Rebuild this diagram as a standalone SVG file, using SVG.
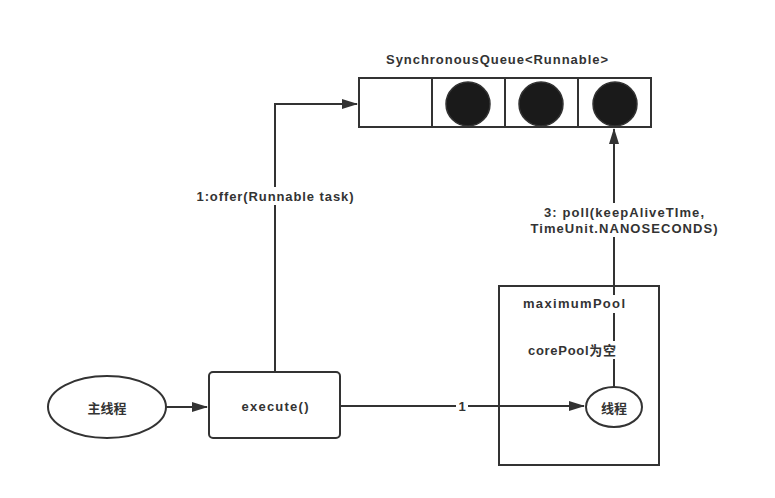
<svg xmlns="http://www.w3.org/2000/svg" width="775" height="498" viewBox="0 0 775 498">
<defs>
<marker id="arr" markerWidth="16" markerHeight="12" refX="15" refY="6" orient="auto" markerUnits="userSpaceOnUse" viewBox="0 0 16 12">
<path d="M0,1 L16,6 L0,11 Z" fill="#333"/>
</marker>
</defs>
<style>
text{font-family:"Liberation Sans","Noto Sans CJK SC",sans-serif;font-weight:bold;font-size:13px;fill:#333;}
.c{text-anchor:middle;dominant-baseline:central;}
.shape{fill:#fff;stroke:#333;stroke-width:2;}
.line{fill:none;stroke:#333;stroke-width:2;}
.lbl{fill:#fff;stroke:none;}
</style>
<rect width="775" height="498" fill="#fff"/>
<g id="maximumPool">
<rect class="shape" x="499" y="286" width="160" height="179"/>
</g>
<g id="connectors">
<path class="line" d="M166,407 L207,407" marker-end="url(#arr)"/>
<path class="line" d="M275,372 L275,104 L357,104" marker-end="url(#arr)"/>
<path class="line" d="M340,406 L584,406" marker-end="url(#arr)"/>
<path class="line" d="M614,387 L614,129" marker-end="url(#arr)"/>
<rect class="lbl" x="195" y="187" width="161" height="18"/>
<text class="c" x="275" y="196" textLength="157" lengthAdjust="spacing">1:offer(Runnable task)</text>
<rect class="lbl" x="456" y="398" width="12" height="16"/>
<text class="c" x="462" y="406">1</text>
<rect class="lbl" x="528" y="203" width="193" height="34"/>
<text class="c" x="624" y="212" textLength="160" lengthAdjust="spacing">3: poll(keepAliveTIme,</text>
<text class="c" x="624" y="228" textLength="187" lengthAdjust="spacing">TimeUnit.NANOSECONDS)</text>
</g>
<g id="pool-labels">
<rect class="lbl" x="520" y="295" width="108" height="18"/>
<text class="c" x="574" y="303" textLength="102" lengthAdjust="spacing">maximumPool</text>
<rect class="lbl" x="526" y="341" width="92" height="18"/>
<text class="c" x="572" y="350" textLength="88" lengthAdjust="spacing">corePool为空</text>
</g>
<g id="queue">
<text class="c" x="497" y="59" textLength="222" lengthAdjust="spacing">SynchronousQueue&lt;Runnable&gt;</text>
<rect class="shape" x="359" y="78" width="292" height="49"/>
<line class="line" x1="432" y1="78" x2="432" y2="127"/>
<line class="line" x1="505" y1="78" x2="505" y2="127"/>
<line class="line" x1="578" y1="78" x2="578" y2="127"/>
<circle cx="468" cy="104" r="22" fill="#1a1a1a" stroke="#333" stroke-width="1.5"/>
<circle cx="541" cy="104" r="22" fill="#1a1a1a" stroke="#333" stroke-width="1.5"/>
<circle cx="615" cy="104" r="22" fill="#1a1a1a" stroke="#333" stroke-width="1.5"/>
</g>
<g id="main-thread">
<ellipse class="shape" cx="107" cy="407" rx="59" ry="31"/>
<text class="c" x="107" y="408">主线程</text>
</g>
<g id="execute">
<rect class="shape" x="209" y="372" width="131" height="66" rx="4"/>
<text class="c" x="275" y="406" textLength="67" lengthAdjust="spacing">execute()</text>
</g>
<g id="thread">
<ellipse class="shape" cx="614" cy="407" rx="28" ry="20"/>
<text class="c" x="614" y="408">线程</text>
</g>
</svg>
